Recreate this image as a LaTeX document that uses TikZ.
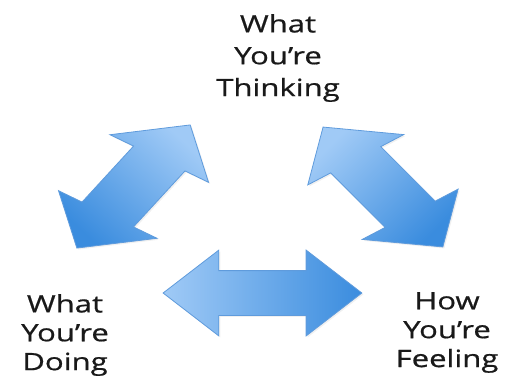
\documentclass[tikz,border=0pt]{standalone}
\usepackage{fontspec}
\newfontfamily\lblfont[FakeStretch=1.3, FakeBold=0.7]{Open Sans}
\usetikzlibrary{shapes.arrows,shadows}
\definecolor{arrowlight}{RGB}{160,202,246}
\definecolor{arrowdark}{RGB}{58,140,222}
\definecolor{arrowedge}{RGB}{95,155,220}
\definecolor{txtcol}{RGB}{25,25,25}
\tikzstyle{lbl_txt} = [align=center, inner sep=0pt, anchor=north, text=txtcol, font=\lblfont\fontsize{24}{32}\selectfont]
\tikzstyle{dbl_arr} = [double arrow, transform shape, draw=arrowedge, line width=0.8bp, inner xsep=0pt, outer sep=0pt, inner ysep=22bp, double arrow head extend=20.5bp, double arrow tip angle=93.5, top color=arrowlight, bottom color=arrowdark, drop shadow={opacity=0.12, shadow xshift=1.5bp, shadow yshift=-1.5bp}]

\begin{document}
\begin{tikzpicture}[x=1bp, y=1bp]
\useasboundingbox (0,0) rectangle (507,387);

\node [lbl_txt] (think) at (278,373) {What\\You’re\\Thinking};
\node [lbl_txt, font=\lblfont\fontsize{24}{29}\selectfont] (doing) at (65,93) {What\\You’re\\Doing};
\node [lbl_txt, font=\lblfont\fontsize{24}{29}\selectfont] (feel) at (447,95) {How\\You’re\\Feeling};

% arrows drawn unstretched, then widened
\begin{scope}[xscale=1.38]
\node [dbl_arr, rotate=56.3, minimum height=148bp, shading angle=-42.6] (arr_dt) at (96.75,200.5) {};
\node [dbl_arr, rotate=-54.1, minimum height=148bp, shading angle=45] (arr_tf) at (277.5,200) {};
\node [dbl_arr, minimum height=144bp, shading angle=90] (arr_df) at (190.2,94) {};
\end{scope}

\end{tikzpicture}
\end{document}
